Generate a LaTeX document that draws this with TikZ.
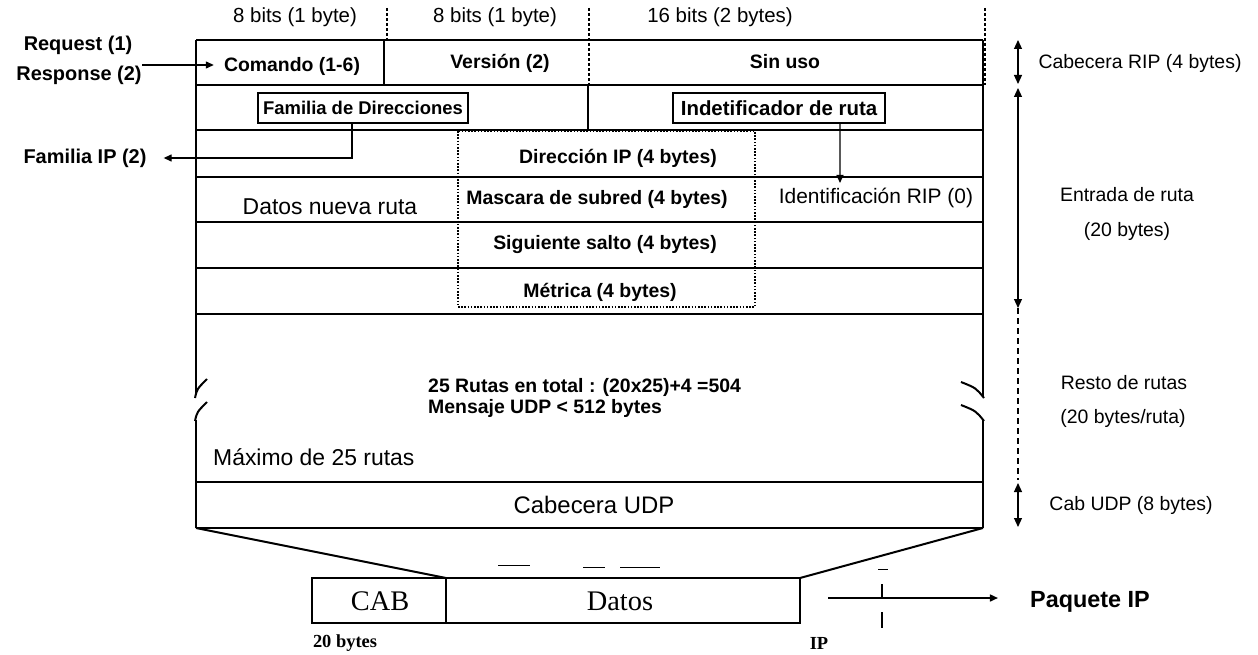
\documentclass[tikz,border=0pt]{standalone}
\usepackage{fontspec}
\setmainfont{Liberation Sans}
\newfontfamily\timesf{Liberation Serif}
\usetikzlibrary{arrows.meta}
\begin{document}
\begin{tikzpicture}[x=1bp,y=-1bp,
  frame/.style={line width=2.4bp},
  rowline/.style={line width=2bp},
  thinline/.style={line width=1.2bp},
  dotline/.style={line width=1.6bp, dash pattern=on 1.6bp off 1.6bp},
  dotbig/.style={line width=2.6bp, dash pattern=on 3bp off 2bp},
  tip/.style={-{Triangle[length=8bp,width=7bp]}},
  dtip/.style={{Triangle[length=9bp,width=8bp]}-{Triangle[length=9bp,width=8bp]}},
  toplbl/.style={font=\fontsize{20.5}{22}\selectfont, inner sep=0pt},
  side/.style={font=\bfseries\fontsize{20}{22}\selectfont, inner sep=0pt},
  fld/.style={font=\bfseries\fontsize{19.5}{21}\selectfont, inner sep=0pt},
  big/.style={font=\fontsize{23}{25}\selectfont, inner sep=0pt},
  rlbl/.style={font=\fontsize{19.5}{22}\selectfont, inner sep=0pt},
  serif/.style={font=\timesf\fontsize{28.5}{30}\selectfont, inner sep=0pt},
  serifs/.style={font=\timesf\bfseries\fontsize{18.5}{21}\selectfont, inner sep=0pt},
  ibox/.style={draw, line width=1.2bp, inner sep=0pt, minimum height=30bp}
]
\useasboundingbox (0,0) rectangle (1258,655);

% ---- top labels and dotted markers
\node[toplbl] (b1) at (295,17) {8 bits (1 byte)};
\node[toplbl] (b2) at (495,17) {8 bits (1 byte)};
\node[toplbl] (b3) at (720,17) {16 bits (2 bytes)};
\draw[dotbig] (387,8) -- (387,40);
\draw[dotbig] (589,8) -- (589,85);
\draw[dotbig] (985,8) -- (985,85);

% ---- main frame rows
\draw[frame] (196,40) -- (983,40);
\draw[frame] (196,85) -- (983,85);
\draw[frame] (196,130) -- (983,130);
\draw[rowline] (196,177) -- (983,177);
\draw[rowline] (196,222) -- (983,222);
\draw[rowline] (196,268) -- (983,268);
\draw[rowline] (196,314) -- (983,314);
\draw[frame] (196,482) -- (983,482);
\draw[frame] (196,528) -- (983,528);
% vertical borders with break
\draw[frame] (196,40) -- (196,395);
\draw[frame] (196,420) -- (196,528);
\draw[frame] (983,40) -- (983,397);
\draw[frame] (983,420) -- (983,528);
% break marks
\draw[rowline] (195,398) .. controls (197,389) .. (207,379);
\draw[rowline] (195,421) .. controls (197,412) .. (207,402);
\draw[rowline] (961,382) .. controls (976,388) .. (984,398);
\draw[rowline] (961,405) .. controls (976,411) .. (984,421);
% column separators
\draw[rowline] (384,40) -- (384,85);
\draw[rowline] (588,85) -- (588,130);
% dotted box
\draw[dotline] (458,131) rectangle (755,307);

% ---- header fields
\node[fld] (cmd) at (292,66) {Comando (1-6)};
\node[fld] (ver) at (500,63) {Versión (2)};
\node[fld] (sin) at (785,62) {Sin uso};

% ---- row 2 boxes
\node[ibox, fld, font=\bfseries\fontsize{18.5}{20}\selectfont, minimum width=210bp] (fam) at (363,108) {Familia de Direcciones};
\node[ibox, fld, font=\bfseries\fontsize{20.5}{22}\selectfont, minimum width=212bp] (ind) at (779,108) {Indetificador de ruta};

% ---- route entry fields
\node[fld] (dip) at (618,158) {Dirección IP (4 bytes)};
\node[fld] (mask) at (597,199) {Mascara de subred (4 bytes)};
\node[fld] (sig) at (605,245) {Siguiente salto (4 bytes)};
\node[fld] (met) at (600,292) {Métrica (4 bytes)};
\node[big] (dnr) at (330,207) {Datos nueva ruta};
\node[rlbl, font=\fontsize{21}{23}\selectfont] (idrip) at (876,198) {Identificación RIP (0)};

% ---- rest of routes
\node[fld, anchor=west] (r25) at (428,387) {25 Rutas en total : (20x25)+4 =504};
\node[fld, anchor=west] (msg) at (428,408) {Mensaje UDP < 512 bytes};
\node[big, anchor=west] (max) at (213,457) {Máximo de 25 rutas};
\node[big, font=\fontsize{24}{26}\selectfont] (udp) at (594,505) {Cabecera UDP};

% ---- left labels
\node[side] (req) at (78,45) {Request (1)};
\node[side] (resp) at (79,75) {Response (2)};
\node[side] (famip) at (85,158) {Familia IP (2)};
\coordinate (reqs) at (142,65);
\draw[thinline, tip] (reqs) -- ([xshift=-10bp]cmd.west |- reqs);
\draw[thinline, tip] ([xshift=-11bp]fam.south) |- ([xshift=17bp]famip.east);
\coordinate (idtip) at (840,183);
\draw[thinline, tip] ([xshift=61bp]ind.south) -- (idtip);

% ---- right dimension arrows
\coordinate (a1t) at (1018,40);
\coordinate (a1b) at (1018,84);
\coordinate (a2t) at (1018,88);
\coordinate (a2b) at (1018,308);
\coordinate (a3b) at (1018,480);
\coordinate (a4t) at (1018,483);
\coordinate (a4b) at (1018,527);
\draw[thinline, dtip] (a1t) -- (a1b);
\draw[thinline, dtip] (a2t) -- (a2b);
\draw[thinline, dash pattern=on 6bp off 4bp] (a2b) -- (a3b);
\draw[thinline, dtip] (a4t) -- (a4b);
\node[rlbl] (crip) at (1140,63) {Cabecera RIP (4 bytes)};
\node[rlbl] (ent1) at (1127,195) {Entrada de ruta};
\node[rlbl] (ent2) at (1127,231) {(20 bytes)};
\node[rlbl] (rest1) at (1124,383) {Resto de rutas};
\node[rlbl] (rest2) at (1123,418) {(20 bytes/ruta)};
\node[rlbl] (cudp) at (1131,505) {Cab UDP (8 bytes)};

% ---- IP packet
\draw[rowline] (196,528) -- (446,578);
\draw[rowline] (983,528) -- (800,578);
\draw[rowline] (312,578) rectangle (800,623);
\draw[rowline] (446,578) -- (446,623);
\node[serif] (cab) at (380,601) {CAB};
\node[serif] (dat) at (620,601) {Datos};
\node[serifs] (b20) at (345,643) {20 bytes};
\node[serifs] (ipl) at (819,643) {IP};
\node[side, font=\bfseries\fontsize{23.5}{25}\selectfont] (pip) at (1090,602) {Paquete IP};
\coordinate (pks) at (828,598);
\draw[line width=1.6bp, tip] (pks) -- ([xshift=-32bp]pip.west |- pks);

% ---- small marks
\draw[thinline] (882,584) -- (882,597);
\draw[thinline] (882,612) -- (882,628);
\draw[line width=0.8bp] (878,569) -- (888,569);
\draw[line width=0.8bp] (498,565) -- (530,565);
\draw[line width=0.8bp] (583,567) -- (605,567);
\draw[line width=0.8bp] (620,567) -- (660,567);
\end{tikzpicture}
\end{document}
